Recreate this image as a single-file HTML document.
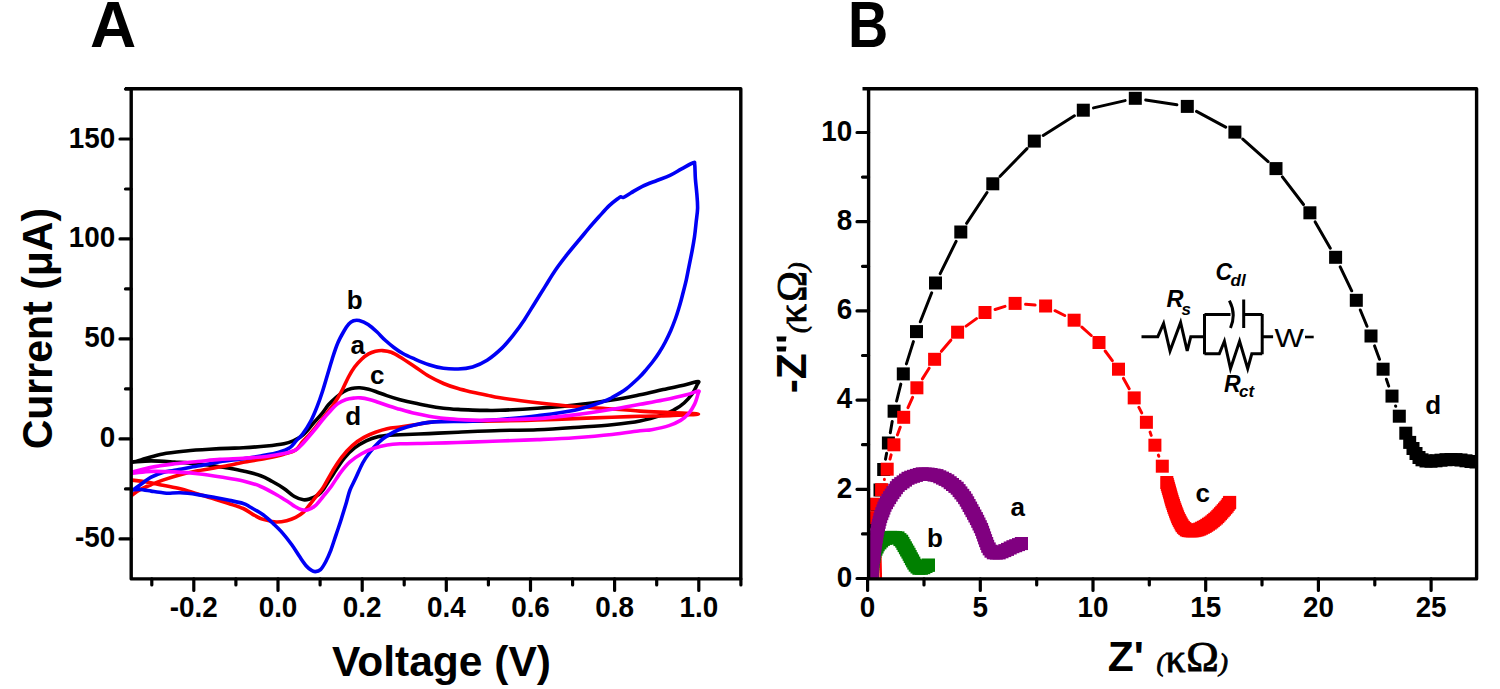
<!DOCTYPE html>
<html><head><meta charset="utf-8"><style>
html,body{margin:0;padding:0;background:#fff;width:1500px;height:689px;overflow:hidden}
svg{display:block}
text{font-family:"Liberation Sans",sans-serif}
.tk{font-weight:bold;font-size:29px}
.lb{font-weight:bold;font-size:26px}
.ttl{font-weight:bold;font-size:42.5px}
.pn{font-weight:bold;font-size:64px}
.gr{font-family:"Liberation Serif",serif;stroke:#000;stroke-width:0.9px}
.cv path{fill:none;stroke-width:3.6;stroke-linejoin:round}
</style></head><body>
<svg width="1500" height="689" viewBox="0 0 1500 689">
<rect width="1500" height="689" fill="#fff"/>
<defs>
<clipPath id="cl"><rect x="131" y="88.8" width="610" height="490"/></clipPath>
<clipPath id="cr"><rect x="868.5" y="88.8" width="608" height="490"/></clipPath>
</defs>
<text x="90" y="47.3" class="pn">A</text>
<text transform="translate(848 47.3) scale(0.87 1)" class="pn">B</text>
<!-- left panel -->
<g class="cv" clip-path="url(#cl)">
<path d="M124.0 462.8 C125.4 462.7 129.0 462.8 132.6 462.1 C136.2 461.4 140.4 460.0 145.4 458.6 C150.4 457.2 156.0 455.2 162.8 453.9 C169.6 452.6 178.3 451.8 186.1 451.0 C193.8 450.2 202.3 449.7 209.3 449.3 C216.3 448.9 222.3 448.6 228.0 448.4 C233.7 448.1 236.8 448.2 243.2 447.8 C249.6 447.4 259.7 446.7 266.5 446.0 C273.3 445.3 279.4 444.6 283.9 443.7 C288.3 442.8 290.5 441.9 293.2 440.8 C295.9 439.7 297.9 438.8 300.0 437.3 C302.1 435.8 303.8 434.4 306.0 432.0 C308.2 429.6 310.9 426.0 313.5 423.0 C316.1 420.0 319.2 417.0 321.7 413.9 C324.2 410.8 326.2 407.3 328.7 404.5 C331.2 401.7 333.9 399.2 336.5 397.0 C339.1 394.8 341.5 392.9 344.0 391.5 C346.5 390.1 348.9 389.1 351.5 388.5 C354.1 387.9 356.9 387.7 359.8 387.8 C362.7 387.9 365.7 388.5 368.6 389.2 C371.6 389.9 374.5 391.1 377.5 392.2 C380.5 393.3 383.1 394.4 386.8 395.6 C390.6 396.9 395.4 398.4 400.0 399.7 C404.6 400.9 409.7 402.1 414.5 403.1 C419.3 404.2 424.2 405.1 429.0 406.0 C433.8 406.9 438.6 407.6 443.5 408.2 C448.4 408.8 453.2 409.1 458.1 409.4 C463.0 409.7 467.8 409.9 472.6 410.1 C477.4 410.3 482.5 410.4 487.1 410.4 C491.7 410.4 491.6 410.6 500.0 410.3 C508.4 410.0 524.8 409.2 537.3 408.3 C549.8 407.4 562.2 406.5 574.7 405.1 C587.2 403.7 601.1 401.7 612.0 400.0 C622.9 398.3 631.5 396.5 640.0 394.8 C648.5 393.1 655.5 391.3 663.2 389.6 C670.9 387.9 680.6 385.8 686.4 384.4 C692.2 383.0 696.3 381.4 698.1 381.5 C699.9 381.6 698.0 383.0 697.0 385.0 C696.0 387.0 694.4 390.7 692.3 393.7 C690.1 396.7 687.0 400.4 684.1 403.0 C681.2 405.6 678.3 407.5 674.8 409.4 C671.3 411.3 669.0 412.7 663.2 414.6 C657.4 416.5 648.5 419.3 640.0 421.0 C631.5 422.7 622.9 423.6 612.0 424.7 C601.1 425.8 587.2 426.6 574.7 427.5 C562.2 428.4 549.8 429.3 537.3 429.8 C524.8 430.3 513.2 430.1 500.0 430.5 C486.8 430.9 469.9 431.7 458.1 432.2 C446.3 432.7 438.7 433.2 429.0 433.6 C419.3 434.0 406.6 434.5 400.0 434.8 C393.4 435.1 393.1 435.0 389.4 435.3 C385.7 435.6 381.7 435.9 377.8 436.8 C373.9 437.7 370.1 439.0 366.2 440.9 C362.3 442.8 358.3 445.0 354.6 447.9 C350.9 450.8 347.6 454.1 344.1 458.3 C340.6 462.6 337.2 468.2 333.7 473.4 C330.2 478.6 325.8 486.1 323.2 489.7 C320.6 493.3 320.1 493.5 317.9 495.0 C315.7 496.5 312.4 498.0 310.0 498.8 C307.6 499.6 306.1 500.2 303.5 499.8 C300.9 499.4 297.7 498.4 294.4 496.5 C291.1 494.6 287.6 490.9 283.9 488.4 C280.2 485.9 276.2 483.6 272.3 481.5 C268.4 479.4 265.6 477.4 260.7 475.7 C255.8 473.9 248.6 472.3 243.2 471.0 C237.8 469.7 231.7 468.6 228.0 467.9 C224.3 467.2 226.0 467.6 220.9 466.9 C215.8 466.2 205.4 464.6 197.7 463.8 C190.0 463.0 182.2 462.6 174.5 462.1 C166.8 461.6 158.2 460.9 151.2 460.9 C144.2 460.9 137.1 461.8 132.6 462.1 C128.1 462.4 125.4 462.7 124.0 462.8" stroke="#000000"/>
<path d="M124.0 501.0 C125.2 500.1 128.9 497.6 131.5 495.7 C134.1 493.8 136.3 491.7 139.6 489.9 C142.9 488.1 147.3 486.3 151.2 484.7 C155.1 483.1 158.0 481.8 162.8 480.1 C167.7 478.5 174.5 476.4 180.3 474.8 C186.1 473.2 189.8 472.3 197.7 470.8 C205.6 469.3 220.4 467.0 228.0 465.6 C235.6 464.2 236.8 463.5 243.2 462.3 C249.6 461.1 259.7 459.6 266.5 458.2 C273.3 456.8 279.1 455.5 283.9 454.2 C288.7 452.9 292.4 452.2 295.5 450.1 C298.6 448.0 300.5 444.0 302.8 441.5 C305.1 439.0 307.1 437.3 309.2 435.0 C311.3 432.7 313.4 430.1 315.5 427.5 C317.6 424.9 319.9 421.9 321.9 419.4 C323.9 416.9 325.6 414.7 327.5 412.3 C329.4 409.9 331.4 407.4 333.1 405.0 C334.8 402.6 336.1 400.6 337.7 398.0 C339.3 395.4 340.7 393.0 342.5 389.5 C344.3 386.0 346.5 380.8 348.5 377.0 C350.5 373.2 352.4 370.0 354.6 367.0 C356.8 364.0 359.3 361.4 361.6 359.2 C363.9 357.0 366.3 355.2 368.6 353.9 C370.9 352.6 373.2 351.9 375.5 351.3 C377.8 350.8 380.0 350.4 382.6 350.6 C385.2 350.8 388.4 351.2 391.3 352.3 C394.2 353.4 396.1 354.6 400.0 357.0 C403.9 359.4 409.7 363.3 414.5 366.5 C419.3 369.7 424.2 373.5 429.0 376.3 C433.8 379.1 438.6 381.4 443.5 383.5 C448.4 385.6 453.2 387.2 458.1 388.6 C463.0 390.1 467.8 391.1 472.6 392.2 C477.4 393.3 482.5 394.3 487.1 395.2 C491.7 396.1 491.6 396.6 500.0 397.8 C508.4 399.1 524.8 401.2 537.3 402.7 C549.8 404.1 563.8 405.6 574.7 406.5 C585.6 407.4 591.8 407.5 602.7 408.3 C613.6 409.1 628.8 410.4 640.0 411.1 C651.2 411.8 660.2 412.1 670.0 412.6 C679.8 413.1 698.5 413.5 698.5 414.0 C698.5 414.5 679.8 415.2 670.0 415.6 C660.2 416.0 649.7 416.0 640.0 416.3 C630.3 416.6 622.9 416.8 612.0 417.2 C601.1 417.6 587.2 418.1 574.7 418.6 C562.2 419.1 549.8 419.6 537.3 420.0 C524.8 420.4 510.8 420.8 500.0 421.0 C489.2 421.2 482.0 421.2 472.6 421.3 C463.2 421.4 450.8 421.1 443.5 421.3 C436.2 421.5 433.8 421.8 429.0 422.4 C424.2 423.0 419.3 424.1 414.5 424.9 C409.7 425.7 404.6 426.4 400.0 427.0 C395.4 427.6 391.2 427.8 387.1 428.7 C383.0 429.6 379.4 430.8 375.5 432.2 C371.6 433.6 367.8 435.2 363.9 437.4 C360.0 439.6 356.0 442.3 352.3 445.6 C348.6 448.9 345.1 452.9 341.8 457.2 C338.5 461.4 335.6 466.1 332.5 471.1 C329.4 476.1 325.8 483.3 323.2 487.4 C320.6 491.5 318.8 493.0 316.6 495.8 C314.4 498.6 312.2 501.7 310.0 504.4 C307.8 507.1 305.9 510.0 303.5 512.2 C301.1 514.4 298.5 516.0 295.7 517.4 C292.9 518.8 289.9 519.9 286.6 520.7 C283.3 521.5 280.0 522.2 276.1 522.0 C272.2 521.8 266.7 520.5 263.1 519.4 C259.6 518.3 258.1 517.3 254.8 515.5 C251.5 513.7 247.7 510.5 243.2 508.5 C238.7 506.5 232.7 504.9 228.0 503.3 C223.3 501.8 220.2 500.8 215.1 499.2 C210.0 497.6 203.5 495.7 197.7 494.0 C191.9 492.3 186.1 490.2 180.3 488.8 C174.5 487.4 168.6 486.5 162.8 485.3 C157.0 484.1 150.6 482.7 145.4 481.8 C140.2 480.9 135.1 480.5 131.5 480.1 C127.9 479.7 125.2 479.6 124.0 479.5" stroke="#ff0000"/>
<path d="M124.0 496.5 C125.2 495.6 128.9 493.0 131.5 491.1 C134.1 489.2 136.3 487.6 139.6 485.3 C142.9 483.0 147.3 479.3 151.2 477.2 C155.1 475.1 158.9 473.7 162.8 472.5 C166.7 471.3 168.7 471.3 174.5 470.2 C180.3 469.1 190.1 467.5 197.7 466.1 C205.3 464.7 212.4 462.9 220.0 461.7 C227.6 460.5 236.4 459.8 243.2 458.8 C250.0 457.8 254.9 457.0 260.7 455.9 C266.5 454.8 273.3 453.8 278.1 452.4 C282.9 451.0 286.6 449.8 289.7 447.8 C292.8 445.8 294.2 442.8 296.4 440.5 C298.6 438.2 300.4 437.1 302.8 433.8 C305.2 430.6 308.4 425.5 310.8 421.0 C313.2 416.5 315.1 411.7 317.1 406.6 C319.1 401.6 321.0 396.0 322.7 390.7 C324.4 385.4 325.9 380.0 327.5 374.7 C329.1 369.4 330.6 364.0 332.3 358.7 C334.0 353.4 335.9 347.4 337.9 342.8 C339.8 338.2 342.2 334.1 344.0 331.0 C345.8 327.9 347.2 325.7 348.8 324.0 C350.4 322.3 351.8 321.4 353.5 320.8 C355.2 320.2 356.9 320.0 359.3 320.6 C361.7 321.2 365.2 322.6 368.1 324.5 C371.0 326.4 373.9 329.1 376.8 331.8 C379.7 334.5 382.6 337.9 385.5 340.5 C388.4 343.1 391.3 345.5 394.2 347.7 C397.1 349.9 399.5 351.6 402.9 353.5 C406.3 355.4 410.1 357.0 414.5 358.9 C418.9 360.8 424.2 363.1 429.0 364.7 C433.8 366.3 438.6 367.6 443.5 368.3 C448.4 369.0 453.2 369.2 458.1 369.0 C463.0 368.8 467.8 368.3 472.6 366.9 C477.4 365.4 482.2 363.5 487.1 360.3 C492.0 357.1 497.6 352.3 502.2 347.9 C506.8 343.5 510.7 338.4 514.4 333.7 C518.1 328.9 521.2 324.5 524.6 319.4 C528.0 314.3 531.3 308.6 534.7 303.2 C538.1 297.8 541.5 292.3 544.9 286.9 C548.3 281.5 551.3 276.1 555.0 270.7 C558.7 265.3 563.1 259.6 567.2 254.4 C571.3 249.2 575.9 243.8 579.5 239.5 C583.1 235.2 585.5 232.2 588.7 228.4 C591.9 224.6 595.5 220.6 598.9 216.8 C602.3 213.1 605.9 208.9 609.0 205.9 C612.1 202.9 615.7 200.3 617.7 198.8 C619.7 197.3 619.8 197.0 620.8 196.8 C621.8 196.6 621.9 198.0 623.6 197.4 C625.3 196.8 627.7 194.8 630.8 193.0 C633.9 191.2 638.0 188.4 642.4 186.3 C646.8 184.2 652.3 182.3 656.9 180.5 C661.5 178.7 665.9 177.3 670.0 175.4 C674.1 173.5 677.7 171.0 681.6 168.9 C685.5 166.8 691.0 163.5 693.2 162.8 C695.4 162.1 694.3 161.8 694.7 164.5 C695.1 167.2 695.0 174.2 695.4 179.0 C695.8 183.8 696.4 188.7 696.8 193.5 C697.2 198.3 697.7 203.2 697.6 208.1 C697.5 212.9 696.6 217.8 696.1 222.6 C695.6 227.4 695.2 232.0 694.5 236.7 C693.8 241.4 693.0 246.0 692.1 250.8 C691.2 255.6 690.2 260.5 689.2 265.4 C688.2 270.2 687.3 275.3 686.3 279.9 C685.3 284.5 684.1 288.6 683.0 293.0 C681.9 297.4 680.8 301.8 679.5 306.0 C678.2 310.2 677.0 314.4 675.5 318.5 C674.0 322.6 672.5 326.6 670.8 330.5 C669.1 334.4 667.2 338.3 665.3 342.0 C663.4 345.7 661.3 349.2 659.2 352.5 C657.1 355.8 654.9 358.9 652.5 362.0 C650.1 365.1 647.2 368.4 645.0 371.0 C642.8 373.6 642.4 374.3 639.3 377.3 C636.1 380.3 630.6 385.6 626.1 389.0 C621.6 392.4 615.9 395.4 612.0 397.5 C608.1 399.6 608.9 399.7 602.7 401.8 C596.5 403.9 585.6 407.9 574.7 410.2 C563.8 412.5 549.8 414.2 537.3 415.8 C524.8 417.4 510.8 418.6 500.0 419.5 C489.2 420.4 482.0 420.9 472.6 421.3 C463.2 421.7 450.8 421.4 443.5 421.6 C436.2 421.8 433.8 421.8 429.0 422.4 C424.2 422.9 419.3 423.8 414.5 424.9 C409.7 426.0 404.4 427.6 400.0 429.3 C395.6 431.0 391.8 433.0 388.3 435.1 C384.8 437.2 382.1 439.2 379.0 442.1 C375.9 445.0 372.4 449.0 369.7 452.5 C367.0 456.0 365.0 458.7 362.7 463.0 C360.4 467.3 357.8 473.6 355.7 478.1 C353.6 482.6 351.5 486.1 350.0 490.0 C348.5 493.9 348.0 496.9 346.6 501.7 C345.2 506.5 343.1 513.2 341.4 518.7 C339.7 524.2 337.9 529.2 336.2 534.4 C334.4 539.6 332.6 545.5 330.9 550.1 C329.1 554.7 327.4 558.5 325.7 561.8 C324.0 565.0 322.2 568.0 320.5 569.6 C318.8 571.2 316.8 571.5 315.3 571.6 C313.8 571.7 312.9 571.3 311.4 570.3 C309.9 569.3 308.1 568.0 306.1 565.7 C304.1 563.4 302.0 560.1 299.6 556.6 C297.2 553.1 294.6 548.7 291.8 544.8 C289.0 540.9 285.7 536.6 282.6 533.1 C279.6 529.6 276.8 527.0 273.5 523.9 C270.2 520.8 267.0 517.6 263.1 514.8 C259.2 512.0 253.3 508.9 250.0 507.0 C246.7 505.1 246.9 504.7 243.2 503.5 C239.5 502.3 232.7 501.0 228.0 500.0 C223.3 499.0 220.2 498.4 215.1 497.5 C210.0 496.6 203.5 495.4 197.7 494.6 C191.9 493.8 185.2 493.0 180.3 492.8 C175.5 492.6 171.5 493.2 168.6 493.2 C165.7 493.2 165.7 493.1 162.8 492.8 C159.9 492.5 155.1 491.7 151.2 491.1 C147.3 490.5 142.9 489.6 139.6 489.4 C136.3 489.2 134.1 489.8 131.5 490.0 C128.9 490.2 125.2 490.4 124.0 490.5" stroke="#0000f5"/>
<path d="M124.0 473.5 C125.4 473.2 128.1 473.0 132.6 472.0 C137.1 471.0 144.2 468.7 151.2 467.3 C158.2 465.9 166.8 464.8 174.5 463.8 C182.2 462.8 190.1 462.2 197.7 461.5 C205.3 460.8 212.4 459.9 220.0 459.4 C227.6 458.8 235.4 458.7 243.2 458.2 C250.9 457.7 259.7 457.3 266.5 456.5 C273.3 455.7 279.1 454.7 283.9 453.6 C288.7 452.5 292.6 451.5 295.5 450.1 C298.4 448.8 299.2 447.2 301.0 445.5 C302.8 443.8 303.8 442.5 306.0 440.0 C308.2 437.5 311.3 433.9 314.0 430.6 C316.7 427.4 319.4 423.7 322.0 420.5 C324.6 417.3 327.2 414.2 329.9 411.4 C332.5 408.6 335.2 405.6 337.9 403.6 C340.6 401.6 343.3 400.4 346.1 399.5 C348.9 398.6 352.4 398.3 354.8 398.0 C357.2 397.7 358.2 397.7 360.6 397.9 C363.0 398.1 366.4 398.7 369.3 399.4 C372.2 400.1 374.7 401.1 378.1 402.3 C381.5 403.5 386.1 405.1 389.7 406.3 C393.3 407.5 395.9 408.1 400.0 409.3 C404.1 410.5 409.7 412.2 414.5 413.3 C419.3 414.4 424.2 415.4 429.0 416.2 C433.8 417.0 438.6 417.8 443.5 418.4 C448.4 418.9 453.2 419.2 458.1 419.5 C463.0 419.8 467.8 420.0 472.6 420.1 C477.4 420.2 482.5 420.2 487.1 420.1 C491.7 420.1 491.6 420.1 500.0 419.8 C508.4 419.6 524.8 419.4 537.3 418.6 C549.8 417.8 562.2 416.4 574.7 414.9 C587.2 413.3 601.1 411.1 612.0 409.3 C622.9 407.5 631.5 405.8 640.0 404.3 C648.5 402.8 655.5 401.7 663.2 400.1 C670.9 398.5 680.6 396.3 686.4 394.8 C692.2 393.3 696.1 391.3 698.1 391.1 C700.1 390.9 698.7 391.5 698.1 393.7 C697.5 395.9 696.2 400.8 694.6 404.1 C693.0 407.4 691.1 410.7 688.8 413.4 C686.5 416.1 683.9 418.4 680.6 420.4 C677.3 422.4 673.8 424.1 669.0 425.6 C664.2 427.2 656.4 428.8 651.6 429.7 C646.8 430.6 646.6 430.0 640.0 430.8 C633.4 431.6 622.9 433.3 612.0 434.5 C601.1 435.7 587.2 436.9 574.7 437.8 C562.2 438.7 549.8 439.1 537.3 439.6 C524.8 440.1 508.4 440.7 500.0 441.0 C491.6 441.3 494.0 441.2 487.0 441.5 C480.0 441.8 467.5 442.2 458.0 442.5 C448.5 442.8 439.7 443.1 430.0 443.3 C420.3 443.5 407.1 443.5 400.0 443.8 C392.9 444.1 391.6 444.2 387.1 445.0 C382.6 445.8 377.4 447.1 373.2 448.5 C368.9 449.9 365.5 451.5 361.6 453.7 C357.7 455.9 353.4 458.7 349.9 461.8 C346.4 464.9 343.8 468.2 340.7 472.3 C337.6 476.4 334.3 482.2 331.4 486.2 C328.5 490.2 325.8 493.2 323.1 496.5 C320.4 499.8 317.9 503.4 315.3 505.7 C312.7 507.9 309.8 509.4 307.4 510.0 C305.0 510.6 303.1 510.1 301.0 509.5 C298.9 508.9 296.9 507.6 295.0 506.5 C293.1 505.4 292.5 504.7 289.5 502.8 C286.5 500.9 281.8 497.7 277.0 495.0 C272.2 492.3 266.3 488.9 260.7 486.5 C255.1 484.1 249.8 482.5 243.2 480.9 C236.6 479.3 228.5 478.2 220.9 477.0 C213.3 475.8 205.4 474.6 197.7 473.7 C190.0 472.8 182.2 472.3 174.5 471.9 C166.8 471.5 158.2 471.2 151.2 471.4 C144.2 471.6 137.1 472.8 132.6 473.1 C128.1 473.5 125.4 473.4 124.0 473.5" stroke="#ff00ff"/>

</g>
<path d="M125 88.8H740.8V578.9H131.2V88.8" stroke="#000" stroke-width="3.4" fill="none" stroke-linejoin="round"/>
<path d="M151.8 578.9V585.0M193.8 578.9V590.5M235.9 578.9V585.0M278.0 578.9V590.5M320.1 578.9V585.0M362.2 578.9V590.5M404.2 578.9V585.0M446.3 578.9V590.5M488.4 578.9V585.0M530.5 578.9V590.5M572.6 578.9V585.0M614.6 578.9V590.5M656.7 578.9V585.0M698.8 578.9V590.5M740.9 578.9V585.0M131.2 538.9H120.0M131.2 488.9H125.5M131.2 438.9H120.0M131.2 388.9H125.5M131.2 338.9H120.0M131.2 288.9H125.5M131.2 238.9H120.0M131.2 189.0H125.5M131.2 139.0H120.0M131.2 89.0H125.5" stroke="#000" stroke-width="3.2" fill="none" stroke-linecap="round"/>
<text transform="translate(193.8 616.8) scale(0.96 1)" text-anchor="middle" class="tk">-0.2</text><text transform="translate(278.0 616.8) scale(0.96 1)" text-anchor="middle" class="tk">0.0</text><text transform="translate(362.2 616.8) scale(0.96 1)" text-anchor="middle" class="tk">0.2</text><text transform="translate(446.3 616.8) scale(0.96 1)" text-anchor="middle" class="tk">0.4</text><text transform="translate(530.5 616.8) scale(0.96 1)" text-anchor="middle" class="tk">0.6</text><text transform="translate(614.6 616.8) scale(0.96 1)" text-anchor="middle" class="tk">0.8</text><text transform="translate(698.8 616.8) scale(0.96 1)" text-anchor="middle" class="tk">1.0</text><text transform="translate(115.2 547.4) scale(0.96 1)" text-anchor="end" class="tk">-50</text><text transform="translate(115.2 447.4) scale(0.96 1)" text-anchor="end" class="tk">0</text><text transform="translate(115.2 347.4) scale(0.96 1)" text-anchor="end" class="tk">50</text><text transform="translate(115.2 247.4) scale(0.96 1)" text-anchor="end" class="tk">100</text><text transform="translate(115.2 147.5) scale(0.96 1)" text-anchor="end" class="tk">150</text>
<text x="354.7" y="309.3" text-anchor="middle" class="lb">b</text>
<text x="357.7" y="353.9" text-anchor="middle" class="lb">a</text>
<text x="377.2" y="384.3" text-anchor="middle" class="lb">c</text>
<text x="353.3" y="424.6" text-anchor="middle" class="lb">d</text>
<text x="441.5" y="675.6" text-anchor="middle" class="ttl">Voltage (V)</text>
<text transform="translate(51.9 328.6) rotate(-90) scale(0.965 1)" text-anchor="middle" class="ttl">Current (&#956;A)</text>
<!-- right panel -->
<g clip-path="url(#cr)">
<path d="M885.5 459.2L886.6 453.3M890.3 432.7L892.2 421.5M896.6 401.0L900.8 384.1M906.4 363.9L913.4 341.6M920.3 321.8L931.7 292.8M940.2 273.6L956.1 241.4M966.6 223.3L987.0 192.5M1000.1 176.3L1027.0 148.6M1043.2 135.5L1074.4 115.8M1093.5 107.9L1125.1 100.6M1145.7 99.9L1176.9 104.8M1196.5 111.4L1225.7 127.1M1242.8 139.1L1268.1 161.6M1282.4 176.9L1303.5 204.5M1315.2 221.9L1330.3 248.2M1340.2 266.8L1351.7 290.8M1360.3 310.0L1367.0 326.3M1374.6 345.9L1379.5 359.3M1386.4 379.2L1388.7 386.1M1395.6 406.0L1395.7 406.3" stroke="#000" stroke-width="3" fill="none" stroke-linecap="round"/>
<rect x="865.5" y="553.5" width="13" height="13" fill="#000"/><rect x="867.0" y="533.5" width="13" height="13" fill="#000"/><rect x="868.5" y="515.5" width="13" height="13" fill="#000"/><rect x="870.5" y="498.5" width="13" height="13" fill="#000"/><rect x="873.5" y="483.5" width="13" height="13" fill="#000"/><rect x="877.2" y="463.0" width="13" height="13" fill="#000"/><rect x="881.9" y="436.5" width="13" height="13" fill="#000"/><rect x="887.6" y="404.7" width="13" height="13" fill="#000"/><rect x="896.8" y="367.4" width="13" height="13" fill="#000"/><rect x="910.0" y="325.1" width="13" height="13" fill="#000"/><rect x="929.0" y="276.5" width="13" height="13" fill="#000"/><rect x="954.3" y="225.5" width="13" height="13" fill="#000"/><rect x="986.3" y="177.3" width="13" height="13" fill="#000"/><rect x="1027.8" y="134.6" width="13" height="13" fill="#000"/><rect x="1076.8" y="103.7" width="13" height="13" fill="#000"/><rect x="1128.8" y="91.8" width="13" height="13" fill="#000"/><rect x="1180.8" y="99.9" width="13" height="13" fill="#000"/><rect x="1228.4" y="125.6" width="13" height="13" fill="#000"/><rect x="1269.5" y="162.1" width="13" height="13" fill="#000"/><rect x="1303.4" y="206.3" width="13" height="13" fill="#000"/><rect x="1329.1" y="250.8" width="13" height="13" fill="#000"/><rect x="1349.8" y="293.8" width="13" height="13" fill="#000"/><rect x="1364.5" y="329.5" width="13" height="13" fill="#000"/><rect x="1376.6" y="362.7" width="13" height="13" fill="#000"/><rect x="1385.5" y="389.6" width="13" height="13" fill="#000"/><rect x="1392.8" y="409.7" width="13" height="13" fill="#000"/><rect x="1399.3" y="426.7" width="13" height="13" fill="#000"/><rect x="1403.2" y="435.9" width="13" height="13" fill="#000"/><rect x="1406.5" y="442.0" width="13" height="13" fill="#000"/><rect x="1409.5" y="447.0" width="13" height="13" fill="#000"/><rect x="1412.5" y="451.0" width="13" height="13" fill="#000"/><rect x="1415.5" y="453.3" width="13" height="13" fill="#000"/><rect x="1419.5" y="454.5" width="13" height="13" fill="#000"/><rect x="1424.5" y="454.7" width="13" height="13" fill="#000"/><rect x="1429.5" y="454.3" width="13" height="13" fill="#000"/><rect x="1434.5" y="453.7" width="13" height="13" fill="#000"/><rect x="1439.5" y="453.2" width="13" height="13" fill="#000"/><rect x="1444.5" y="453.0" width="13" height="13" fill="#000"/><rect x="1449.5" y="453.1" width="13" height="13" fill="#000"/><rect x="1454.5" y="453.5" width="13" height="13" fill="#000"/><rect x="1459.5" y="454.3" width="13" height="13" fill="#000"/><rect x="1464.5" y="455.0" width="13" height="13" fill="#000"/><rect x="1469.5" y="455.5" width="13" height="13" fill="#000"/>
<path d="M880.8 579 L880.3 556 L877 535 L872.9 517.7" stroke="#ff0000" stroke-width="2.6" fill="none"/><path d="M884.4 479.6L884.4 479.3M890.0 459.1L891.1 454.9M897.4 434.9L900.2 427.2M908.0 407.7L912.6 397.4M922.4 378.9L929.1 368.2M941.4 351.3L950.8 340.2M966.1 326.1L976.5 318.6M995.1 309.5L1005.0 306.4M1025.6 304.3L1035.1 305.1M1055.0 310.7L1064.7 315.5M1081.9 327.2L1091.2 335.5M1105.2 351.0L1112.3 360.7M1123.5 378.4L1129.2 388.7M1138.9 407.3L1141.7 412.9M1150.1 432.1L1151.2 435.4M1158.4 455.1L1158.8 456.3" stroke="#ff0000" stroke-width="3" fill="none" stroke-linecap="round"/>
<rect x="866.4" y="511.2" width="13" height="13" fill="#ff0000"/><rect x="869.7" y="497.7" width="13" height="13" fill="#ff0000"/><rect x="875.1" y="483.2" width="13" height="13" fill="#ff0000"/><rect x="880.7" y="462.7" width="13" height="13" fill="#ff0000"/><rect x="887.4" y="438.3" width="13" height="13" fill="#ff0000"/><rect x="897.2" y="410.8" width="13" height="13" fill="#ff0000"/><rect x="910.4" y="381.3" width="13" height="13" fill="#ff0000"/><rect x="928.1" y="352.8" width="13" height="13" fill="#ff0000"/><rect x="951.1" y="325.7" width="13" height="13" fill="#ff0000"/><rect x="978.5" y="306.0" width="13" height="13" fill="#ff0000"/><rect x="1008.6" y="296.9" width="13" height="13" fill="#ff0000"/><rect x="1039.1" y="299.5" width="13" height="13" fill="#ff0000"/><rect x="1067.6" y="313.7" width="13" height="13" fill="#ff0000"/><rect x="1092.5" y="336.0" width="13" height="13" fill="#ff0000"/><rect x="1112.0" y="362.7" width="13" height="13" fill="#ff0000"/><rect x="1127.7" y="391.4" width="13" height="13" fill="#ff0000"/><rect x="1139.9" y="415.8" width="13" height="13" fill="#ff0000"/><rect x="1148.4" y="438.7" width="13" height="13" fill="#ff0000"/><rect x="1155.8" y="459.7" width="13" height="13" fill="#ff0000"/><rect x="1160.3" y="476.0" width="13" height="13" fill="#ff0000"/><rect x="1160.8" y="477.9" width="13" height="13" fill="#ff0000"/><rect x="1161.4" y="479.8" width="13" height="13" fill="#ff0000"/><rect x="1161.9" y="481.8" width="13" height="13" fill="#ff0000"/><rect x="1162.5" y="483.7" width="13" height="13" fill="#ff0000"/><rect x="1163.0" y="485.6" width="13" height="13" fill="#ff0000"/><rect x="1163.6" y="487.5" width="13" height="13" fill="#ff0000"/><rect x="1164.1" y="489.5" width="13" height="13" fill="#ff0000"/><rect x="1164.6" y="491.4" width="13" height="13" fill="#ff0000"/><rect x="1165.2" y="493.3" width="13" height="13" fill="#ff0000"/><rect x="1165.7" y="495.2" width="13" height="13" fill="#ff0000"/><rect x="1166.4" y="497.1" width="13" height="13" fill="#ff0000"/><rect x="1167.0" y="499.0" width="13" height="13" fill="#ff0000"/><rect x="1167.6" y="500.9" width="13" height="13" fill="#ff0000"/><rect x="1168.3" y="502.8" width="13" height="13" fill="#ff0000"/><rect x="1169.0" y="504.7" width="13" height="13" fill="#ff0000"/><rect x="1169.7" y="506.6" width="13" height="13" fill="#ff0000"/><rect x="1170.4" y="508.4" width="13" height="13" fill="#ff0000"/><rect x="1171.1" y="510.3" width="13" height="13" fill="#ff0000"/><rect x="1171.9" y="512.2" width="13" height="13" fill="#ff0000"/><rect x="1172.8" y="513.9" width="13" height="13" fill="#ff0000"/><rect x="1173.7" y="515.7" width="13" height="13" fill="#ff0000"/><rect x="1174.7" y="517.5" width="13" height="13" fill="#ff0000"/><rect x="1175.6" y="519.2" width="13" height="13" fill="#ff0000"/><rect x="1176.9" y="520.8" width="13" height="13" fill="#ff0000"/><rect x="1178.3" y="522.1" width="13" height="13" fill="#ff0000"/><rect x="1179.8" y="523.4" width="13" height="13" fill="#ff0000"/><rect x="1181.6" y="524.1" width="13" height="13" fill="#ff0000"/><rect x="1183.6" y="524.3" width="13" height="13" fill="#ff0000"/><rect x="1185.6" y="524.4" width="13" height="13" fill="#ff0000"/><rect x="1187.6" y="524.2" width="13" height="13" fill="#ff0000"/><rect x="1189.5" y="523.7" width="13" height="13" fill="#ff0000"/><rect x="1191.4" y="523.3" width="13" height="13" fill="#ff0000"/><rect x="1193.3" y="522.6" width="13" height="13" fill="#ff0000"/><rect x="1195.1" y="521.7" width="13" height="13" fill="#ff0000"/><rect x="1196.9" y="520.8" width="13" height="13" fill="#ff0000"/><rect x="1198.7" y="519.9" width="13" height="13" fill="#ff0000"/><rect x="1200.3" y="518.8" width="13" height="13" fill="#ff0000"/><rect x="1202.0" y="517.7" width="13" height="13" fill="#ff0000"/><rect x="1203.7" y="516.6" width="13" height="13" fill="#ff0000"/><rect x="1205.3" y="515.4" width="13" height="13" fill="#ff0000"/><rect x="1206.8" y="514.1" width="13" height="13" fill="#ff0000"/><rect x="1208.3" y="512.8" width="13" height="13" fill="#ff0000"/><rect x="1209.9" y="511.5" width="13" height="13" fill="#ff0000"/><rect x="1211.3" y="510.1" width="13" height="13" fill="#ff0000"/><rect x="1212.6" y="508.6" width="13" height="13" fill="#ff0000"/><rect x="1214.0" y="507.2" width="13" height="13" fill="#ff0000"/><rect x="1215.3" y="505.7" width="13" height="13" fill="#ff0000"/><rect x="1216.7" y="504.2" width="13" height="13" fill="#ff0000"/><rect x="1218.0" y="502.7" width="13" height="13" fill="#ff0000"/><rect x="1219.3" y="501.2" width="13" height="13" fill="#ff0000"/><rect x="1220.6" y="499.7" width="13" height="13" fill="#ff0000"/><rect x="1221.7" y="498.0" width="13" height="13" fill="#ff0000"/><rect x="1222.9" y="496.4" width="13" height="13" fill="#ff0000"/><rect x="1223.2" y="495.9" width="13" height="13" fill="#ff0000"/>
<rect x="865.8" y="567.2" width="13" height="13" fill="#008000"/><rect x="865.9" y="564.8" width="13" height="13" fill="#008000"/><rect x="866.0" y="562.3" width="13" height="13" fill="#008000"/><rect x="866.2" y="559.8" width="13" height="13" fill="#008000"/><rect x="866.3" y="557.3" width="13" height="13" fill="#008000"/><rect x="866.5" y="554.8" width="13" height="13" fill="#008000"/><rect x="867.0" y="552.3" width="13" height="13" fill="#008000"/><rect x="867.4" y="549.9" width="13" height="13" fill="#008000"/><rect x="867.9" y="547.4" width="13" height="13" fill="#008000"/><rect x="868.4" y="545.0" width="13" height="13" fill="#008000"/><rect x="869.5" y="542.7" width="13" height="13" fill="#008000"/><rect x="870.6" y="540.5" width="13" height="13" fill="#008000"/><rect x="871.7" y="538.3" width="13" height="13" fill="#008000"/><rect x="873.4" y="536.4" width="13" height="13" fill="#008000"/><rect x="875.1" y="534.5" width="13" height="13" fill="#008000"/><rect x="876.9" y="532.9" width="13" height="13" fill="#008000"/><rect x="879.2" y="531.9" width="13" height="13" fill="#008000"/><rect x="881.6" y="531.2" width="13" height="13" fill="#008000"/><rect x="884.1" y="530.9" width="13" height="13" fill="#008000"/><rect x="886.6" y="530.9" width="13" height="13" fill="#008000"/><rect x="889.1" y="531.1" width="13" height="13" fill="#008000"/><rect x="891.5" y="531.4" width="13" height="13" fill="#008000"/><rect x="893.4" y="533.1" width="13" height="13" fill="#008000"/><rect x="895.2" y="534.7" width="13" height="13" fill="#008000"/><rect x="896.4" y="536.9" width="13" height="13" fill="#008000"/><rect x="897.6" y="539.1" width="13" height="13" fill="#008000"/><rect x="898.9" y="541.3" width="13" height="13" fill="#008000"/><rect x="900.1" y="543.5" width="13" height="13" fill="#008000"/><rect x="901.4" y="545.6" width="13" height="13" fill="#008000"/><rect x="902.6" y="547.8" width="13" height="13" fill="#008000"/><rect x="903.7" y="550.0" width="13" height="13" fill="#008000"/><rect x="904.9" y="552.3" width="13" height="13" fill="#008000"/><rect x="906.1" y="554.4" width="13" height="13" fill="#008000"/><rect x="907.3" y="556.6" width="13" height="13" fill="#008000"/><rect x="908.7" y="558.7" width="13" height="13" fill="#008000"/><rect x="910.5" y="560.5" width="13" height="13" fill="#008000"/><rect x="912.4" y="561.8" width="13" height="13" fill="#008000"/><rect x="914.9" y="561.8" width="13" height="13" fill="#008000"/><rect x="917.3" y="561.2" width="13" height="13" fill="#008000"/><rect x="919.5" y="560.0" width="13" height="13" fill="#008000"/><rect x="921.7" y="558.8" width="13" height="13" fill="#008000"/><rect x="922.0" y="558.6" width="13" height="13" fill="#008000"/>
<rect x="865.2" y="569.2" width="13" height="13" fill="#800080"/><rect x="865.5" y="566.3" width="13" height="13" fill="#800080"/><rect x="865.7" y="563.3" width="13" height="13" fill="#800080"/><rect x="865.9" y="560.3" width="13" height="13" fill="#800080"/><rect x="866.1" y="557.3" width="13" height="13" fill="#800080"/><rect x="866.4" y="554.3" width="13" height="13" fill="#800080"/><rect x="866.8" y="551.3" width="13" height="13" fill="#800080"/><rect x="867.2" y="548.3" width="13" height="13" fill="#800080"/><rect x="867.6" y="545.4" width="13" height="13" fill="#800080"/><rect x="868.0" y="542.4" width="13" height="13" fill="#800080"/><rect x="868.4" y="539.4" width="13" height="13" fill="#800080"/><rect x="868.8" y="536.5" width="13" height="13" fill="#800080"/><rect x="869.3" y="533.5" width="13" height="13" fill="#800080"/><rect x="869.8" y="530.5" width="13" height="13" fill="#800080"/><rect x="870.2" y="527.6" width="13" height="13" fill="#800080"/><rect x="870.7" y="524.6" width="13" height="13" fill="#800080"/><rect x="871.3" y="521.7" width="13" height="13" fill="#800080"/><rect x="872.0" y="518.8" width="13" height="13" fill="#800080"/><rect x="872.7" y="515.8" width="13" height="13" fill="#800080"/><rect x="873.4" y="512.9" width="13" height="13" fill="#800080"/><rect x="874.2" y="510.0" width="13" height="13" fill="#800080"/><rect x="875.3" y="507.2" width="13" height="13" fill="#800080"/><rect x="876.4" y="504.4" width="13" height="13" fill="#800080"/><rect x="877.4" y="501.6" width="13" height="13" fill="#800080"/><rect x="878.5" y="498.8" width="13" height="13" fill="#800080"/><rect x="880.0" y="496.2" width="13" height="13" fill="#800080"/><rect x="881.5" y="493.7" width="13" height="13" fill="#800080"/><rect x="883.1" y="491.1" width="13" height="13" fill="#800080"/><rect x="884.7" y="488.6" width="13" height="13" fill="#800080"/><rect x="886.4" y="486.1" width="13" height="13" fill="#800080"/><rect x="888.2" y="483.7" width="13" height="13" fill="#800080"/><rect x="889.9" y="481.2" width="13" height="13" fill="#800080"/><rect x="891.7" y="478.9" width="13" height="13" fill="#800080"/><rect x="894.2" y="477.1" width="13" height="13" fill="#800080"/><rect x="896.6" y="475.4" width="13" height="13" fill="#800080"/><rect x="899.0" y="473.6" width="13" height="13" fill="#800080"/><rect x="901.5" y="471.8" width="13" height="13" fill="#800080"/><rect x="904.2" y="470.7" width="13" height="13" fill="#800080"/><rect x="907.0" y="469.8" width="13" height="13" fill="#800080"/><rect x="909.9" y="468.9" width="13" height="13" fill="#800080"/><rect x="912.8" y="468.0" width="13" height="13" fill="#800080"/><rect x="915.7" y="467.3" width="13" height="13" fill="#800080"/><rect x="918.7" y="467.5" width="13" height="13" fill="#800080"/><rect x="921.6" y="467.6" width="13" height="13" fill="#800080"/><rect x="924.6" y="468.0" width="13" height="13" fill="#800080"/><rect x="927.6" y="468.6" width="13" height="13" fill="#800080"/><rect x="930.5" y="469.1" width="13" height="13" fill="#800080"/><rect x="933.3" y="470.3" width="13" height="13" fill="#800080"/><rect x="936.0" y="471.6" width="13" height="13" fill="#800080"/><rect x="938.6" y="472.9" width="13" height="13" fill="#800080"/><rect x="941.3" y="474.3" width="13" height="13" fill="#800080"/><rect x="943.7" y="476.2" width="13" height="13" fill="#800080"/><rect x="946.0" y="478.0" width="13" height="13" fill="#800080"/><rect x="948.4" y="479.9" width="13" height="13" fill="#800080"/><rect x="950.7" y="481.7" width="13" height="13" fill="#800080"/><rect x="952.6" y="484.1" width="13" height="13" fill="#800080"/><rect x="954.4" y="486.4" width="13" height="13" fill="#800080"/><rect x="956.3" y="488.8" width="13" height="13" fill="#800080"/><rect x="958.1" y="491.2" width="13" height="13" fill="#800080"/><rect x="959.7" y="493.7" width="13" height="13" fill="#800080"/><rect x="961.2" y="496.3" width="13" height="13" fill="#800080"/><rect x="962.6" y="499.0" width="13" height="13" fill="#800080"/><rect x="964.1" y="501.6" width="13" height="13" fill="#800080"/><rect x="965.5" y="504.2" width="13" height="13" fill="#800080"/><rect x="967.0" y="506.8" width="13" height="13" fill="#800080"/><rect x="968.4" y="509.5" width="13" height="13" fill="#800080"/><rect x="969.9" y="512.1" width="13" height="13" fill="#800080"/><rect x="971.2" y="514.8" width="13" height="13" fill="#800080"/><rect x="972.5" y="517.5" width="13" height="13" fill="#800080"/><rect x="973.8" y="520.2" width="13" height="13" fill="#800080"/><rect x="975.1" y="522.9" width="13" height="13" fill="#800080"/><rect x="976.1" y="525.7" width="13" height="13" fill="#800080"/><rect x="977.1" y="528.5" width="13" height="13" fill="#800080"/><rect x="978.1" y="531.4" width="13" height="13" fill="#800080"/><rect x="979.1" y="534.2" width="13" height="13" fill="#800080"/><rect x="980.2" y="537.0" width="13" height="13" fill="#800080"/><rect x="981.2" y="539.8" width="13" height="13" fill="#800080"/><rect x="982.7" y="542.4" width="13" height="13" fill="#800080"/><rect x="984.5" y="544.7" width="13" height="13" fill="#800080"/><rect x="986.8" y="546.3" width="13" height="13" fill="#800080"/><rect x="989.8" y="546.6" width="13" height="13" fill="#800080"/><rect x="992.7" y="546.4" width="13" height="13" fill="#800080"/><rect x="995.5" y="545.3" width="13" height="13" fill="#800080"/><rect x="998.3" y="544.1" width="13" height="13" fill="#800080"/><rect x="1001.0" y="542.9" width="13" height="13" fill="#800080"/><rect x="1003.7" y="541.5" width="13" height="13" fill="#800080"/><rect x="1006.4" y="540.2" width="13" height="13" fill="#800080"/><rect x="1009.2" y="539.2" width="13" height="13" fill="#800080"/><rect x="1012.0" y="538.1" width="13" height="13" fill="#800080"/><rect x="1014.8" y="537.1" width="13" height="13" fill="#800080"/><rect x="1015.0" y="537.0" width="13" height="13" fill="#800080"/>

</g>
<path d="M862.5 88.8H1476.6V578.9H868.6V88.8" stroke="#000" stroke-width="3.4" fill="none" stroke-linejoin="round"/>
<path d="M867.6 578.9V590.5M924.0 578.9V585.0M980.3 578.9V590.5M1036.7 578.9V585.0M1093.0 578.9V590.5M1149.3 578.9V585.0M1205.7 578.9V590.5M1262.0 578.9V585.0M1318.4 578.9V590.5M1374.8 578.9V585.0M1431.1 578.9V590.5M868.6 578.5H857.0M868.6 533.9H862.5M868.6 489.3H857.0M868.6 444.7H862.5M868.6 400.1H857.0M868.6 355.5H862.5M868.6 310.9H857.0M868.6 266.3H862.5M868.6 221.7H857.0M868.6 177.1H862.5M868.6 132.5H857.0" stroke="#000" stroke-width="3.2" fill="none" stroke-linecap="round"/>
<text transform="translate(867.6 616.8) scale(0.96 1)" text-anchor="middle" class="tk">0</text><text transform="translate(980.3 616.8) scale(0.96 1)" text-anchor="middle" class="tk">5</text><text transform="translate(1093.0 616.8) scale(0.96 1)" text-anchor="middle" class="tk">10</text><text transform="translate(1205.7 616.8) scale(0.96 1)" text-anchor="middle" class="tk">15</text><text transform="translate(1318.4 616.8) scale(0.96 1)" text-anchor="middle" class="tk">20</text><text transform="translate(1431.1 616.8) scale(0.96 1)" text-anchor="middle" class="tk">25</text><text transform="translate(852.2 586.8) scale(0.96 1)" text-anchor="end" class="tk">0</text><text transform="translate(852.2 497.6) scale(0.96 1)" text-anchor="end" class="tk">2</text><text transform="translate(852.2 408.4) scale(0.96 1)" text-anchor="end" class="tk">4</text><text transform="translate(852.2 319.2) scale(0.96 1)" text-anchor="end" class="tk">6</text><text transform="translate(852.2 230.0) scale(0.96 1)" text-anchor="end" class="tk">8</text><text transform="translate(852.2 140.8) scale(0.96 1)" text-anchor="end" class="tk">10</text>
<text x="1433.2" y="413.6" text-anchor="middle" class="lb">d</text>
<text x="1202.8" y="501.5" text-anchor="middle" class="lb">c</text>
<text x="1017.8" y="515.6" text-anchor="middle" class="lb">a</text>
<text x="935" y="547" text-anchor="middle" class="lb">b</text>
<!-- circuit -->
<path d="M1141.5 336.7H1157.8L1163.6 323.5L1170 351L1180.6 322.5L1187.2 351L1190.8 336.7H1204.5 M1204.5 313.9V354.2 M1204.5 314.5H1230.5 M1243.7 314.5H1262.2 M1262.2 313.9V354.2 M1204.5 353.8H1219.3L1224.4 341.2L1230.5 368.6L1239.6 341.2L1247.7 368.6L1251.8 353.8H1262.2 M1262.2 336.8H1273.1 M1243.7 299.6V328 M1229.4 300.6Q1236.5 314 1230.5 328" stroke="#000" stroke-width="3" fill="none"/>
<text transform="translate(1274.5 347.3) scale(1.25 1)" style="font-size:25px">W</text>
<path d="M1305 337H1313.7" stroke="#000" stroke-width="2.6"/>
<text x="1166.5" y="307.3" style="font-size:23.5px;font-weight:bold;font-style:italic">R</text>
<text x="1181.5" y="314.9" style="font-size:17px;font-weight:bold;font-style:italic">s</text>
<text x="1215.5" y="280.3" style="font-size:23px;font-weight:bold;font-style:italic">C</text>
<text x="1230.5" y="286.4" style="font-size:17px;font-weight:bold;font-style:italic">dl</text>
<text x="1224" y="392" style="font-size:23px;font-weight:bold;font-style:italic">R</text>
<text x="1239" y="397" style="font-size:17px;font-weight:bold;font-style:italic">ct</text>
<!-- axis titles -->
<text x="1107.8" y="671" class="ttl">Z'</text>
<text x="1156.5" y="671" class="gr" style="font-size:26px;font-style:italic">(</text>
<text x="1165.5" y="671.7" class="gr" style="font-size:40px">&#954;</text>
<text transform="translate(1186.3 671.2) scale(1.06 1)" class="gr" style="font-size:41.3px">&#937;</text>
<text x="1219.3" y="671" class="gr" style="font-size:26px;font-style:italic">)</text>
<text transform="translate(806 393.3) rotate(-90)" class="ttl">-Z</text>
<path d="M776.4 346.6H786.5L785.8 351.4H777.2Z M776.4 336.5H786.5L785.8 341.6H777.2Z" fill="#000"/>
<g transform="translate(806 333) rotate(-90)">
<text x="0" y="0" class="gr" style="font-size:26px;font-style:italic">(</text>
<text x="9" y="0" class="gr" style="font-size:40px">&#954;</text>
<text transform="translate(31.2 0) scale(1.0 1)" class="gr" style="font-size:41.3px">&#937;</text>
<text x="62" y="0" class="gr" style="font-size:26px;font-style:italic">)</text>
</g>
</svg>
</body></html>
